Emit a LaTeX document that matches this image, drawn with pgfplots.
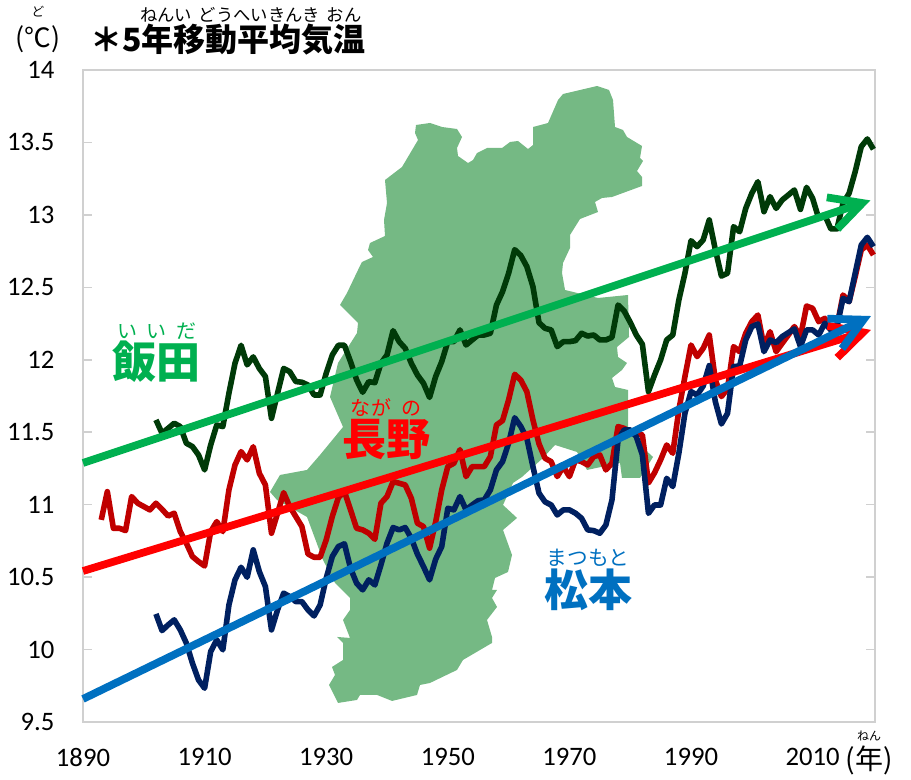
\documentclass[border=0pt]{standalone}
\usepackage{fontspec}
\setmainfont{Carlito}
\newfontfamily\cjk{Noto Sans CJK JP}
\usepackage{pgfplots}
\usepackage{pgfplotstable}
\pgfplotsset{compat=1.18}
\usetikzlibrary{arrows.meta}
\definecolor{mapgreen}{RGB}{117,185,132}
\definecolor{iidadark}{RGB}{0,58,8}
\definecolor{naganodark}{RGB}{192,0,0}
\definecolor{matsunavy}{RGB}{0,32,96}
\definecolor{iidatrend}{RGB}{0,176,80}
\definecolor{naganotrend}{RGB}{255,0,0}
\definecolor{matsutrend}{RGB}{0,112,192}
\definecolor{framegray}{RGB}{208,208,208}

\pgfplotstableread{
year val
1902 11.585
1903 11.493
1904 11.527
1905 11.562
1906 11.539
1907 11.424
1908 11.401
1909 11.343
1910 11.240
1911 11.412
1912 11.550
1913 11.539
1914 11.769
1915 11.976
1916 12.100
1917 11.965
1918 12.020
1919 11.940
1920 11.884
1921 11.596
1922 11.769
1923 11.940
1924 11.918
1925 11.850
1926 11.845
1927 11.826
1928 11.757
1929 11.757
1930 11.907
1931 12.033
1932 12.100
1933 12.100
1934 11.987
1935 11.861
1936 11.776
1937 11.849
1938 11.842
1939 11.976
1940 12.033
1941 12.201
1942 12.125
1943 12.079
1944 11.976
1945 11.895
1946 11.838
1947 11.740
1948 11.884
1949 11.987
1950 12.125
1951 12.125
1952 12.206
1953 12.102
1954 12.137
1955 12.171
1956 12.171
1957 12.183
1958 12.378
1959 12.470
1960 12.597
1961 12.760
1962 12.720
1963 12.643
1964 12.505
1965 12.256
1966 12.217
1967 12.206
1968 12.091
1969 12.125
1970 12.125
1971 12.132
1972 12.183
1973 12.164
1974 12.171
1975 12.137
1976 12.137
1977 12.155
1978 12.378
1979 12.337
1980 12.259
1981 12.171
1982 12.107
1983 11.780
1984 11.895
1985 11.999
1986 12.137
1987 12.171
1988 12.413
1989 12.597
1990 12.822
1991 12.781
1992 12.827
1993 12.965
1994 12.760
1995 12.578
1996 12.597
1997 12.919
1998 12.884
1999 13.045
2000 13.149
2001 13.229
2002 13.022
2003 13.126
2004 13.045
2005 13.103
2006 13.137
2007 13.172
2008 13.038
2009 13.190
2010 13.114
2011 12.976
2012 12.999
2013 12.903
2014 12.903
2015 13.080
2016 13.149
2017 13.298
2018 13.471
2019 13.524
2020 13.453
}\iida

\pgfplotstableread{
year val
1893 10.895
1894 11.090
1895 10.837
1896 10.837
1897 10.821
1898 11.056
1899 11.010
1900 10.987
1901 10.964
1902 11.010
1903 10.968
1904 10.922
1905 10.941
1906 10.814
1907 10.734
1908 10.642
1909 10.607
1910 10.577
1911 10.814
1912 10.883
1913 10.814
1914 11.102
1915 11.274
1916 11.366
1917 11.309
1918 11.400
1919 11.217
1920 11.136
1921 10.803
1922 10.941
1923 11.083
1924 10.987
1925 10.918
1926 10.849
1927 10.660
1928 10.637
1929 10.637
1930 10.757
1931 10.918
1932 11.049
1933 11.090
1934 10.964
1935 10.837
1936 10.826
1937 10.803
1938 10.761
1939 11.010
1940 11.056
1941 11.159
1942 11.148
1943 11.136
1944 11.044
1945 10.872
1946 10.849
1947 10.700
1948 10.880
1949 11.102
1950 11.263
1951 11.286
1952 11.380
1953 11.194
1954 11.263
1955 11.263
1956 11.263
1957 11.332
1958 11.550
1959 11.580
1960 11.723
1961 11.900
1962 11.860
1963 11.780
1964 11.585
1965 11.420
1966 11.320
1967 11.297
1968 11.194
1969 11.263
1970 11.194
1971 11.309
1972 11.297
1973 11.274
1974 11.332
1975 11.343
1976 11.240
1977 11.286
1978 11.539
1979 11.527
1980 11.504
1981 11.493
1982 11.481
1983 11.150
1984 11.220
1985 11.309
1986 11.412
1987 11.355
1988 11.654
1989 11.884
1990 12.102
1991 12.022
1992 12.079
1993 12.171
1994 11.861
1995 11.746
1996 11.800
1997 12.091
1998 12.056
1999 12.183
2000 12.263
2001 12.309
2002 12.091
2003 12.194
2004 12.056
2005 12.114
2006 12.171
2007 12.229
2008 12.160
2009 12.371
2010 12.355
2011 12.263
2012 12.286
2013 12.206
2014 12.229
2015 12.447
2016 12.401
2017 12.574
2018 12.758
2019 12.792
2020 12.723
}\nagano

\pgfplotstableread{
year val
1902 10.246
1903 10.131
1904 10.170
1905 10.205
1906 10.136
1907 10.044
1908 9.906
1909 9.790
1910 9.733
1911 9.986
1912 10.067
1913 9.998
1914 10.308
1915 10.481
1916 10.568
1917 10.499
1918 10.688
1919 10.538
1920 10.435
1921 10.136
1922 10.274
1923 10.389
1924 10.366
1925 10.331
1926 10.331
1927 10.274
1928 10.232
1929 10.308
1930 10.492
1931 10.642
1932 10.711
1933 10.730
1934 10.561
1935 10.458
1936 10.412
1937 10.481
1938 10.446
1939 10.584
1940 10.734
1941 10.842
1942 10.826
1943 10.842
1944 10.768
1945 10.658
1946 10.573
1947 10.481
1948 10.623
1949 10.711
1950 10.975
1951 10.964
1952 11.056
1953 10.964
1954 10.998
1955 11.028
1956 11.033
1957 11.102
1958 11.240
1959 11.297
1960 11.424
1961 11.600
1962 11.540
1963 11.458
1964 11.263
1965 11.079
1966 11.019
1967 10.998
1968 10.929
1969 10.964
1970 10.964
1971 10.941
1972 10.906
1973 10.826
1974 10.821
1975 10.803
1976 10.860
1977 11.033
1978 11.447
1979 11.516
1980 11.516
1981 11.470
1982 11.343
1983 10.940
1984 10.998
1985 10.998
1986 11.182
1987 11.125
1988 11.355
1989 11.631
1990 11.780
1991 11.757
1992 11.819
1993 11.960
1994 11.711
1995 11.557
1996 11.630
1997 11.953
1998 11.957
1999 12.137
2000 12.229
2001 12.247
2002 12.056
2003 12.137
2004 12.118
2005 12.160
2006 12.187
2007 12.213
2008 12.091
2009 12.206
2010 12.206
2011 12.171
2012 12.252
2013 12.206
2014 12.229
2015 12.424
2016 12.401
2017 12.597
2018 12.792
2019 12.845
2020 12.781
}\matsumoto

% outline of the prefecture, in pixels of the picture
\pgfplotstableread{
px py
416 125
430 123
442 127
457 129
462 137
457 148
458 156
468 163
473 160
477 153
487 148
502 148
510 142
518 141
528 149
533 145
533 127
548 123
558 100
563 94
597 86
609 90
613 100
615 127
623 130
627 137
642 146
640 158
643 161
637 171
642 177
642 186
612 197
602 198
595 202
598 212
580 219
570 235
570 248
563 263
562 273
565 290
598 298
628 295
629 337
617 347
618 357
627 363
622 370
612 378
615 387
628 390
628 427
640 445
653 457
640 478
622 478
620 463
587 470
577 452
555 445
543 458
522 477
513 483
503 505
517 518
503 530
512 555
508 572
495 578
492 590
497 590
492 598
497 607
487 620
492 637
492 643
463 660
457 670
430 683
420 685
417 695
392 701
377 695
360 695
357 700
338 703
329 685
335 675
332 667
343 660
343 643
337 637
350 638
343 620
350 610
350 598
335 583
323 560
307 517
277 500
270 492
280 475
307 470
320 455
343 427
330 397
338 363
357 333
358 323
340 305
347 293
358 270
362 262
373 257
368 250
370 243
385 236
384 220
387 203
385 180
402 167
418 140
415 133
}\mapoutline

\begin{document}
\begin{tikzpicture}
\path[use as bounding box] (-62.25pt,-42.75pt) rectangle (621pt,541.5pt);
\begin{axis}[
  scale only axis, width=594pt, height=489pt,
  xmin=1890, xmax=2020.26, ymin=9.5, ymax=14,
  xtick={1890,1910,...,2010},
  ytick={9.5,10,...,14},
  axis line style={framegray, line width=1.8pt},
  tick align=inside,
  xtick style={draw=none},
  ytick style={framegray, line width=1.1pt},
  major tick length=7pt,
  every tick label/.append style={font=\fontsize{20}{22}\selectfont},
  /pgf/number format/.cd, assume math mode=true, 1000 sep={},
  /pgfplots/.cd,
  xticklabel style={yshift=-16pt},
  yticklabel style={xshift=-18pt},
  clip=false,
]
\addplot[fill=mapgreen, draw=none] table[
  x expr=1890+(\thisrow{px}-83)/6.08, y expr=14-(\thisrow{py}-70)/144.9
] {\mapoutline} -- cycle;

\addplot[iidadark, line width=4.2pt, line join=round] table[x=year, y=val] {\iida};
\addplot[naganodark, line width=4.2pt, line join=round] table[x=year, y=val] {\nagano};
\addplot[matsunavy, line width=4.2pt, line join=round] table[x=year, y=val] {\matsumoto};

\addplot[iidatrend, line width=5.8pt, -{Straight Barb[length=24pt,width=25pt]}]
  coordinates {(1890,11.288)(2019.5,13.100)};
\addplot[naganotrend, line width=5.8pt, -{Straight Barb[length=24pt,width=25pt]}]
  coordinates {(1890,10.542)(2019.6,12.206)};
\addplot[matsutrend, line width=5.8pt, -{Straight Barb[length=24pt,width=25pt]}]
  coordinates {(1890,9.659)(2019.6,12.302)};
\end{axis}

% page pixels from here on
\begin{scope}[x=.75pt, y=-.75pt, shift={(-83,-722)}, every node/.style={inner sep=0pt, font=\cjk}]
\node[font=\cjk\bfseries\fontsize{24}{26}\selectfont, anchor=west] at (90,40) {＊5年移動平均気温};
\node[font=\cjk\fontsize{13}{14}\selectfont, anchor=west] at (140,15) {ねんい\hspace{5pt}どうへいきんき\hspace{5pt}おん};
\node[font=\cjk\fontsize{20}{21}\selectfont] at (38,39) {(℃)};
\node[font=\cjk\fontsize{9.5}{10}\selectfont] at (38,12) {ど};
\node[font=\cjk\fontsize{21}{22}\selectfont] at (869,760) {(年)};
\node[font=\cjk\fontsize{9}{10}\selectfont] at (869,736) {ねん};

\node[font=\cjk\bfseries\fontsize{33}{35}\selectfont, text=iidatrend] at (157,362) {飯田};
\node[font=\cjk\fontsize{15}{16}\selectfont, text=iidatrend] at (157,331) {い\hspace{7pt}い\hspace{7pt}だ};
\node[font=\cjk\bfseries\fontsize{33}{35}\selectfont, text=naganotrend] at (386,439) {長野};
\node[font=\cjk\fontsize{15}{16}\selectfont, text=naganotrend] at (386,408) {な\hspace{1pt}が\hspace{7pt}の};
\node[font=\cjk\bfseries\fontsize{33}{35}\selectfont, text=matsutrend] at (588,590) {松本};
\node[font=\cjk\fontsize{15.5}{16}\selectfont, text=matsutrend] at (588,558) {まつもと};
\end{scope}
\end{tikzpicture}
\end{document}
